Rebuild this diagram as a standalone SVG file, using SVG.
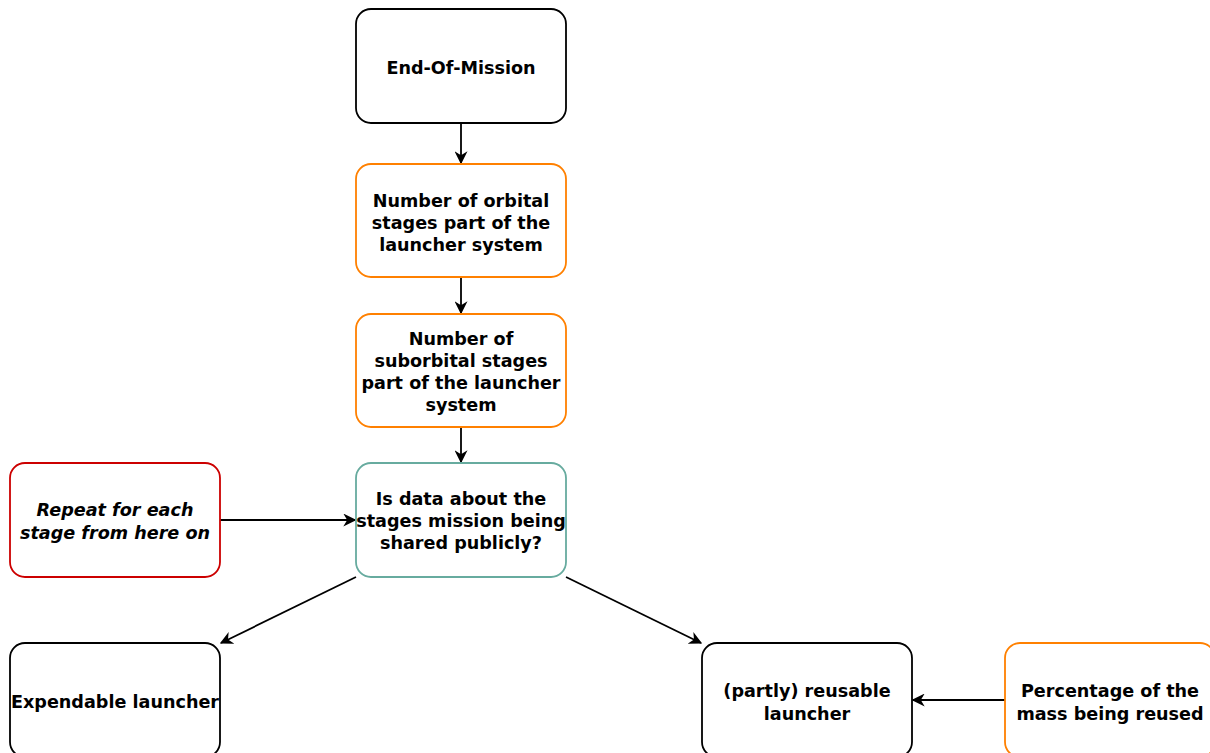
<svg xmlns="http://www.w3.org/2000/svg" width="1210" height="753" viewBox="0 0 1210 753">
<style>
.box{fill:#fff;stroke-width:1.8}
.k{stroke:#000}.o{stroke:#FF8000}.t{stroke:#67AB9F}.r{stroke:#CC0000}
text{font-family:"DejaVu Sans",Verdana,sans-serif;font-size:17.6px;font-weight:bold;fill:#000;text-anchor:middle}
.e{stroke:#000;stroke-width:1.8;fill:none;marker-end:url(#a)}
</style>
<defs>
<marker id="a" viewBox="0 0 10 10" refX="9" refY="5" markerWidth="13" markerHeight="13" markerUnits="userSpaceOnUse" orient="auto">
<path d="M0,0 L10,5 L0,10 L3,5 Z" fill="#000"/>
</marker>
</defs>
<rect width="1210" height="753" fill="#fff"/>
<g id="connectors">
<path class="e" d="M461,123 L461,163"/>
<path class="e" d="M461,277 L461,313"/>
<path class="e" d="M461,427 L461,462"/>
<path class="e" d="M220,520 L355,520"/>
<path class="e" d="M356,577 L221,643"/>
<path class="e" d="M566,577 L701,643"/>
<path class="e" d="M1005,700 L913,700"/>
</g>
<g id="n1"><rect class="box k" x="356" y="9" width="210" height="114" rx="15"/><text x="461" y="74">End-Of-Mission</text></g>
<g id="n2"><rect class="box o" x="356" y="164" width="210" height="113" rx="15"/><text x="461" y="207">Number of orbital</text><text x="461" y="229">stages part of the</text><text x="461" y="251">launcher system</text></g>
<g id="n3"><rect class="box o" x="356" y="314" width="210" height="113" rx="15"/><text x="461" y="345">Number of</text><text x="461" y="367">suborbital stages</text><text x="461" y="389">part of the launcher</text><text x="461" y="411">system</text></g>
<g id="n4"><rect class="box t" x="356" y="463" width="210" height="114" rx="15"/><text x="461" y="505">Is data about the</text><text x="461" y="527">stages mission being</text><text x="461" y="549">shared publicly?</text></g>
<g id="n5"><rect class="box r" x="10" y="463" width="210" height="114" rx="15"/><text x="115" y="516" font-style="italic">Repeat for each</text><text x="115" y="539" font-style="italic">stage from here on</text></g>
<g id="n6"><rect class="box k" x="10" y="643" width="210" height="114" rx="15"/><text x="115" y="708">Expendable launcher</text></g>
<g id="n7"><rect class="box k" x="702" y="643" width="210" height="114" rx="15"/><text x="807" y="697">(partly) reusable</text><text x="807" y="720">launcher</text></g>
<g id="n8"><rect class="box o" x="1005" y="643" width="210" height="114" rx="15"/><text x="1110" y="697">Percentage of the</text><text x="1110" y="720">mass being reused</text></g>
</svg>
